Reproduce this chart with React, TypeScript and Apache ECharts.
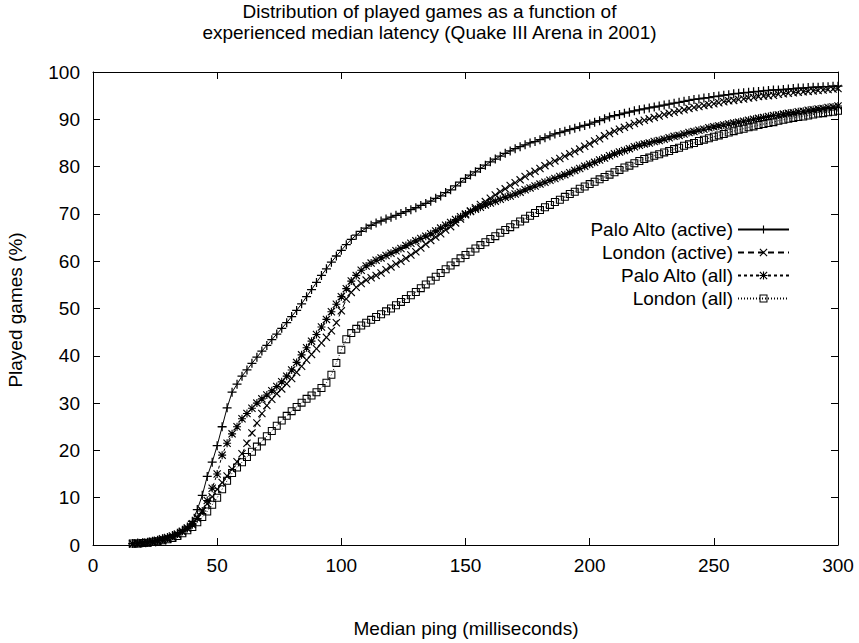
import React, { useEffect, useRef } from "react";
import * as echarts from "echarts";

const pingMs = [
  16, 18, 20, 22, 24, 26, 28, 30, 32, 34,
  36, 38, 40, 42, 44, 46, 48, 50, 52, 54,
  56, 58, 60, 62, 64, 66, 68, 70, 72, 74,
  76, 78, 80, 82, 84, 86, 88, 90, 92, 94,
  96, 98, 100, 102, 104, 106, 108, 110, 112, 114,
  116, 118, 120, 122, 124, 126, 128, 130, 132, 134,
  136, 138, 140, 142, 144, 146, 148, 150, 152, 154,
  156, 158, 160, 162, 164, 166, 168, 170, 172, 174,
  176, 178, 180, 182, 184, 186, 188, 190, 192, 194,
  196, 198, 200, 202, 204, 206, 208, 210, 212, 214,
  216, 218, 220, 222, 224, 226, 228, 230, 232, 234,
  236, 238, 240, 242, 244, 246, 248, 250, 252, 254,
  256, 258, 260, 262, 264, 266, 268, 270, 272, 274,
  276, 278, 280, 282, 284, 286, 288, 290, 292, 294,
  296, 298, 300,
];

const paloAltoActive = [
  0.3, 0.4, 0.5, 0.6, 0.8, 1.0, 1.3, 1.6, 2.0, 2.5,
  3.1, 3.8, 5.0, 7.5, 10.5, 14.5, 17.5, 21.0, 25.0, 29.0,
  32.3, 34.0, 35.7, 37.0, 38.4, 39.7, 41.0, 42.2, 43.4, 44.6,
  45.8, 47.0, 48.3, 49.6, 51.0, 52.5, 54.0, 55.5, 57.0, 58.4,
  59.8, 61.1, 62.3, 63.5, 64.6, 65.5, 66.3, 67.0, 67.6, 68.1,
  68.5, 68.9, 69.3, 69.7, 70.1, 70.5, 70.9, 71.3, 71.8, 72.2,
  72.7, 73.3, 73.8, 74.5, 75.1, 75.9, 76.7, 77.5, 78.2, 78.9,
  79.6, 80.3, 81.0, 81.6, 82.2, 82.8, 83.3, 83.8, 84.2, 84.6,
  85.0, 85.3, 85.7, 86.1, 86.5, 86.9, 87.2, 87.5, 87.8, 88.1,
  88.4, 88.7, 89.0, 89.4, 89.7, 90.1, 90.5, 90.8, 91.0, 91.3,
  91.5, 91.8, 92.0, 92.2, 92.4, 92.6, 92.8, 93.0, 93.2, 93.4,
  93.6, 93.8, 94.0, 94.2, 94.3, 94.5, 94.6, 94.8, 94.9, 95.1,
  95.2, 95.4, 95.5, 95.6, 95.7, 95.8, 95.9, 96.0, 96.1, 96.2,
  96.2, 96.3, 96.4, 96.5, 96.6, 96.6, 96.7, 96.8, 96.8, 96.9,
  96.9, 97.0, 97.0,
];

const londonActive = [
  0.2, 0.2, 0.3, 0.4, 0.5, 0.7, 0.9, 1.2, 1.6, 2.1,
  2.8, 3.6, 4.5, 5.8, 7.2, 8.7, 10.2, 11.8, 13.2, 14.6,
  16.0, 17.6, 19.3, 21.5, 23.7, 25.8, 27.8, 29.5, 30.8, 32.0,
  33.0, 34.1, 35.2, 36.5, 37.8, 39.1, 40.3, 41.5, 42.7, 43.9,
  45.3, 47.0, 49.5, 52.0, 53.4, 54.5, 55.3, 56.0, 56.5, 57.0,
  57.5, 58.2, 58.8, 59.4, 60.0, 60.6, 61.3, 62.0, 62.8, 63.6,
  64.4, 65.1, 65.8, 66.6, 67.3, 68.1, 68.9, 69.8, 70.6, 71.3,
  72.0, 72.6, 73.3, 74.0, 74.7, 75.3, 76.0, 76.6, 77.2, 77.9,
  78.5, 79.0, 79.6, 80.2, 80.7, 81.2, 81.7, 82.2, 82.7, 83.2,
  83.7, 84.3, 84.8, 85.4, 85.9, 86.5, 87.0, 87.5, 87.9, 88.3,
  88.7, 89.1, 89.5, 89.8, 90.1, 90.4, 90.7, 91.0, 91.3, 91.5,
  91.8, 92.0, 92.3, 92.5, 92.7, 92.9, 93.1, 93.3, 93.5, 93.7,
  93.9, 94.0, 94.2, 94.3, 94.5, 94.6, 94.8, 94.9, 95.0, 95.1,
  95.3, 95.4, 95.5, 95.6, 95.7, 95.8, 95.9, 96.0, 96.1, 96.2,
  96.3, 96.4, 96.5,
];

const paloAltoAll = [
  0.3, 0.4, 0.5, 0.6, 0.8, 1.0, 1.3, 1.6, 1.9, 2.3,
  2.9, 3.5, 4.3, 5.6, 7.2, 9.4, 12.0, 15.0, 19.0, 21.5,
  23.5, 25.0, 26.7, 27.8, 28.9, 30.0, 30.9, 31.7, 32.6, 33.5,
  34.5, 35.7, 37.0, 38.6, 40.2, 41.7, 43.1, 44.5, 46.1, 47.7,
  49.3, 50.9, 52.5, 54.2, 55.8, 57.0, 58.1, 59.0, 59.6, 60.2,
  60.7, 61.2, 61.7, 62.2, 62.7, 63.3, 63.8, 64.3, 64.8, 65.3,
  65.8, 66.4, 67.0, 67.6, 68.2, 68.8, 69.4, 70.0, 70.5, 71.0,
  71.4, 71.9, 72.3, 72.7, 73.1, 73.5, 73.8, 74.2, 74.6, 75.1,
  75.5, 75.9, 76.3, 76.7, 77.1, 77.5, 77.9, 78.3, 78.7, 79.2,
  79.6, 80.1, 80.5, 80.9, 81.4, 81.8, 82.3, 82.7, 83.1, 83.4,
  83.8, 84.2, 84.5, 84.8, 85.0, 85.3, 85.5, 85.8, 86.1, 86.4,
  86.6, 86.9, 87.2, 87.4, 87.7, 87.9, 88.2, 88.4, 88.6, 88.8,
  89.0, 89.2, 89.4, 89.6, 89.8, 90.0, 90.2, 90.4, 90.6, 90.8,
  90.9, 91.1, 91.3, 91.4, 91.6, 91.7, 91.9, 92.0, 92.2, 92.3,
  92.5, 92.6, 92.8,
];

const londonAll = [
  0.3, 0.3, 0.4, 0.5, 0.7, 0.8, 1.0, 1.2, 1.5, 1.9,
  2.5, 3.1, 3.8, 4.8, 5.9, 7.1, 8.5, 10.0, 11.8, 13.6,
  15.2, 16.4, 17.5, 18.6, 19.7, 20.8, 21.9, 23.0, 24.1, 25.2,
  26.3, 27.3, 28.3, 29.2, 30.1, 30.9, 31.6, 32.3, 33.2, 34.3,
  36.0, 38.5, 41.3, 43.5, 44.8, 45.7, 46.4, 47.0, 47.6, 48.2,
  48.8, 49.4, 50.0, 50.7, 51.4, 52.0, 52.8, 53.5, 54.3, 55.1,
  55.9, 56.7, 57.5, 58.3, 59.1, 59.8, 60.6, 61.3, 62.0, 62.7,
  63.4, 64.0, 64.7, 65.3, 66.0, 66.6, 67.2, 67.8, 68.4, 69.0,
  69.6, 70.2, 70.8, 71.4, 71.9, 72.5, 73.0, 73.6, 74.2, 74.7,
  75.3, 75.8, 76.3, 76.8, 77.3, 77.8, 78.3, 78.8, 79.3, 79.8,
  80.2, 80.7, 81.2, 81.6, 81.9, 82.3, 82.6, 83.0, 83.3, 83.7,
  84.0, 84.4, 84.7, 85.0, 85.4, 85.7, 86.0, 86.3, 86.6, 86.9,
  87.2, 87.5, 87.8, 88.0, 88.3, 88.5, 88.8, 89.0, 89.2, 89.4,
  89.7, 89.9, 90.1, 90.3, 90.5, 90.6, 90.8, 91.0, 91.2, 91.3,
  91.5, 91.6, 91.8,
];

const seriesNames = ["Palo Alto (active)", "London (active)", "Palo Alto (all)", "London (all)"];
const xTicks = { min: 0, max: 300, interval: 50 };
const yTicks = { min: 0, max: 100, interval: 10 };

const FONT = "'Liberation Sans', Arial, Helvetica, sans-serif";
const FS = 19;
const PLUS_D = "M4.3,0H5.7V4.3H10V5.7H5.7V10H4.3V5.7H0V4.3H4.3Z";
const CROSS_D = "M0,1L1,0L5,4L9,0L10,1L6,5L10,9L9,10L5,6L1,10L0,9L4,5Z";
const SQUARE_D = "M0,0H10V10H0Z M1.3,1.3V8.7H8.7V1.3Z";

export default function App() {
  const ref = useRef<HTMLDivElement>(null);

  useEffect(() => {
    if (!ref.current) return;
    const chart = echarts.init(ref.current, null, { renderer: "svg" });
    const pairs = (ys: number[]) => pingMs.map((x, i) => [x, ys[i]]);
    const mk = (name: string, ys: number[], symbol: string, size: number, dash: any) => ({
      name,
      type: "line",
      data: pairs(ys),
      symbol,
      symbolSize: size,
      showSymbol: true,
      lineStyle: { color: "#000", width: 1, type: dash },
      itemStyle: { color: "#000", borderWidth: 0 },
      emphasis: { disabled: true },
      z: 3,
    });

    const axisCommon = {
      type: "value",
      axisLine: { show: true, onZero: false, lineStyle: { color: "#000", width: 1 } },
      axisTick: { show: true, inside: true, length: 7, lineStyle: { color: "#000", width: 1 } },
      splitLine: { show: false },
    };

    chart.setOption({
      animation: false,
      backgroundColor: "#fff",
      title: {
        text: "Distribution of played games as a function of\nexperienced median latency (Quake III Arena in 2001)",
        left: "center",
        top: 1,
        padding: 0,
        textStyle: { fontSize: FS, fontWeight: "normal", fontFamily: FONT, color: "#000", lineHeight: 21 },
      },
      grid: { left: 93, right: 21, top: 72, bottom: 98 },
      legend: {
        orient: "vertical",
        right: 64,
        top: 215,
        align: "right",
        itemWidth: 51,
        itemHeight: 10,
        itemGap: 4,
        selectedMode: false,
        data: seriesNames,
        textStyle: { fontSize: FS, fontFamily: FONT, color: "#000", lineHeight: 18 },
      },
      xAxis: [
        {
          ...axisCommon,
          ...xTicks,
          position: "bottom",
          axisLabel: { color: "#000", fontSize: FS, fontFamily: FONT, margin: 11 },
        },
        { ...axisCommon, ...xTicks, position: "top", axisLabel: { show: false } },
      ],
      yAxis: [
        {
          ...axisCommon,
          ...yTicks,
          position: "left",
          axisLabel: { color: "#000", fontSize: FS, fontFamily: FONT, margin: 13 },
        },
        { ...axisCommon, ...yTicks, position: "right", axisLabel: { show: false } },
      ],
      graphic: [
        {
          type: "text",
          x: 15,
          y: 310,
          rotation: Math.PI / 2,
          style: {
            text: "Played games (%)",
            fontSize: FS,
            fontFamily: FONT,
            fill: "#000",
            textAlign: "center",
            textVerticalAlign: "middle",
          },
        },
        {
          type: "text",
          x: 466,
          y: 628,
          style: {
            text: "Median ping (milliseconds)",
            fontSize: FS,
            fontFamily: FONT,
            fill: "#000",
            textAlign: "center",
            textVerticalAlign: "middle",
          },
        },
      ],
      series: [
        mk(seriesNames[0], paloAltoActive, "path://" + PLUS_D, 9, "solid"),
        mk(seriesNames[1], londonActive, "path://" + CROSS_D, 8, [6, 4]),
        mk(seriesNames[2], paloAltoAll, "path://" + PLUS_D + " " + CROSS_D, 8, [3, 3]),
        mk(seriesNames[3], londonAll, "path://" + SQUARE_D, 8, [1, 2]),
      ],
    });
    return () => chart.dispose();
  }, []);

  return (
    <div
      ref={ref}
      style={{ position: "fixed", left: 0, top: 0, width: 859, height: 643, background: "#fff" }}
    />
  );
}
